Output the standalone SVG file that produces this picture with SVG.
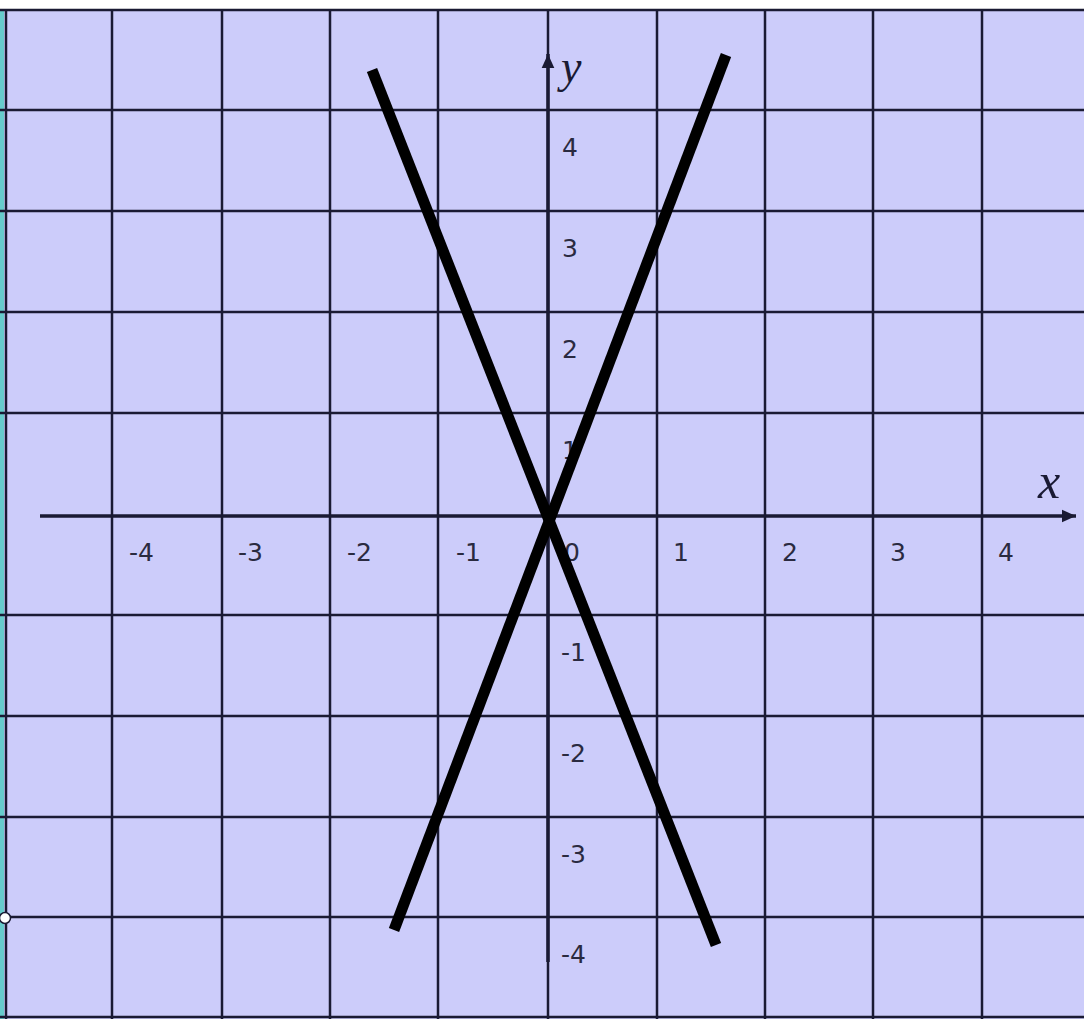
<svg xmlns="http://www.w3.org/2000/svg" width="1084" height="1019" viewBox="0 0 1084 1019">
<style>
.grid{stroke:#1a1a33;stroke-width:2.5;fill:none}
.axis{stroke:#1a1a33;stroke-width:3.5;fill:none}
.graph{stroke:#000;stroke-width:11;fill:none;stroke-linecap:butt}
.lbl{font-family:"DejaVu Sans","Liberation Sans",sans-serif;font-size:25px;fill:#2a2a40;font-weight:normal}
.var{font-family:"Liberation Serif",serif;font-style:italic;fill:#1a1a33}
</style>
<defs>
<marker id="arr" viewBox="0 0 10 10" refX="10" refY="5" markerWidth="18" markerHeight="14" markerUnits="userSpaceOnUse" orient="auto">
<path d="M0,0.5 L10,5 L0,9.5 z" fill="#1a1a33"/>
</marker>
</defs>
<rect x="0" y="0" width="1084" height="1019" fill="#ffffff"/>
<rect x="0" y="10" width="1084" height="1009" fill="#ccccfa"/>
<rect x="0" y="10" width="4" height="1009" fill="#66cccc"/>
<g id="grid">
<line class="grid" x1="6" y1="10" x2="6" y2="1019"/>
<line class="grid" x1="112" y1="10" x2="112" y2="1019"/>
<line class="grid" x1="222" y1="10" x2="222" y2="1019"/>
<line class="grid" x1="330" y1="10" x2="330" y2="1019"/>
<line class="grid" x1="438" y1="10" x2="438" y2="1019"/>
<line class="grid" x1="548" y1="10" x2="548" y2="1019"/>
<line class="grid" x1="657" y1="10" x2="657" y2="1019"/>
<line class="grid" x1="765" y1="10" x2="765" y2="1019"/>
<line class="grid" x1="873" y1="10" x2="873" y2="1019"/>
<line class="grid" x1="982" y1="10" x2="982" y2="1019"/>
<line class="grid" x1="0" y1="10" x2="1084" y2="10"/>
<line class="grid" x1="0" y1="110" x2="1084" y2="110"/>
<line class="grid" x1="0" y1="211" x2="1084" y2="211"/>
<line class="grid" x1="0" y1="312" x2="1084" y2="312"/>
<line class="grid" x1="0" y1="413" x2="1084" y2="413"/>
<line class="grid" x1="0" y1="615" x2="1084" y2="615"/>
<line class="grid" x1="0" y1="716" x2="1084" y2="716"/>
<line class="grid" x1="0" y1="817" x2="1084" y2="817"/>
<line class="grid" x1="0" y1="917" x2="1084" y2="917"/>
<line class="grid" x1="0" y1="1017" x2="1084" y2="1017"/>
</g>
<g id="axes">
<line class="axis" x1="40" y1="516" x2="1076" y2="516" marker-end="url(#arr)"/>
<line class="axis" x1="548" y1="962" x2="548" y2="54" marker-end="url(#arr)"/>
<circle cx="5" cy="918" r="5.5" fill="#ffffff" stroke="#1a1a33" stroke-width="1.5"/>
</g>
<g id="labels">
<text class="var" x="561" y="82" font-size="46">y</text>
<text class="var" x="1038" y="498" font-size="50">x</text>
<text class="lbl" x="129" y="561">-4</text>
<text class="lbl" x="238" y="561">-3</text>
<text class="lbl" x="347" y="561">-2</text>
<text class="lbl" x="456" y="561">-1</text>
<text class="lbl" x="564" y="561">0</text>
<text class="lbl" x="673" y="561">1</text>
<text class="lbl" x="782" y="561">2</text>
<text class="lbl" x="890" y="561">3</text>
<text class="lbl" x="998" y="561">4</text>
<text class="lbl" x="562" y="156">4</text>
<text class="lbl" x="562" y="257">3</text>
<text class="lbl" x="562" y="358">2</text>
<text class="lbl" x="562" y="459">1</text>
<text class="lbl" x="561" y="661">-1</text>
<text class="lbl" x="561" y="762">-2</text>
<text class="lbl" x="561" y="863">-3</text>
<text class="lbl" x="561" y="963">-4</text>
</g>
<g id="graphs">
<line class="graph" x1="372" y1="70" x2="716" y2="945"/>
<line class="graph" x1="726" y1="55" x2="394" y2="930"/>
</g>
</svg>
